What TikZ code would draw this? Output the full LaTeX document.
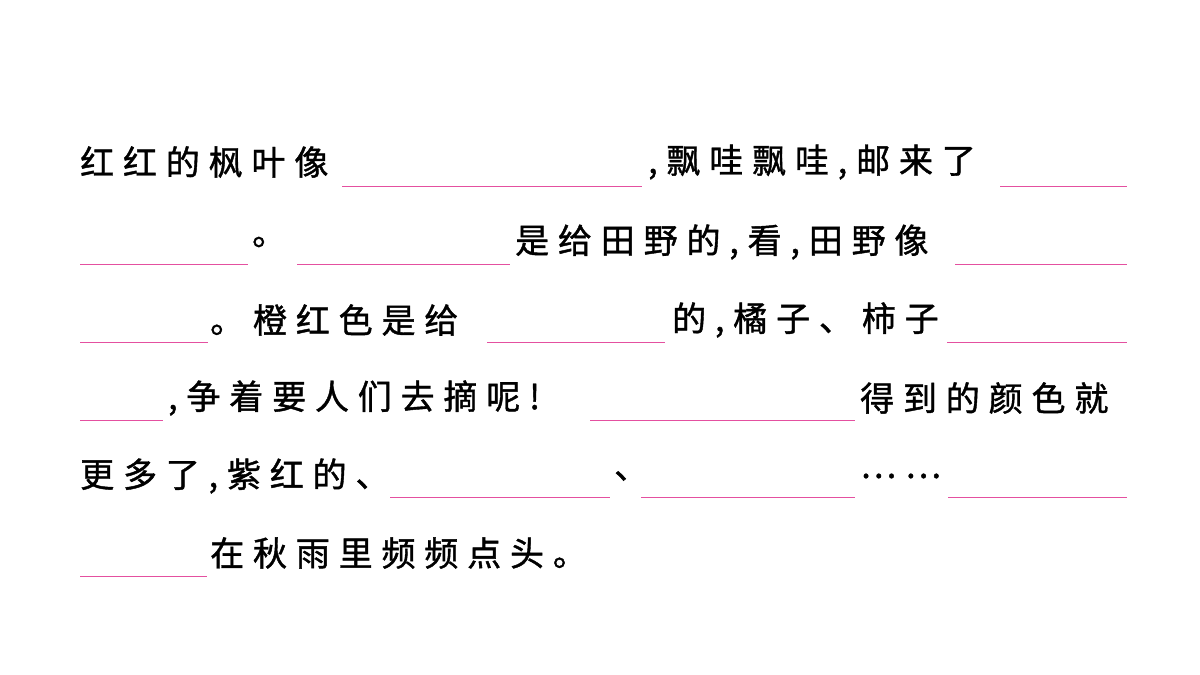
\documentclass[tikz,border=0pt]{standalone}
\usepackage{fontspec}
\newfontfamily\cjk[LetterSpace=26,FakeBold=1.2]{Noto Sans CJK SC}
\definecolor{pk}{RGB}{228,80,160}
\begin{document}
\begin{tikzpicture}[x=1pt,y=-1pt,
 t/.style={anchor=west,inner sep=0pt,font=\cjk\fontsize{34}{34}\selectfont},
 bl/.style={draw=pk,line width=0.8pt}]
\useasboundingbox (0,0) rectangle (1200,675);
% line 1
\node[t] (a1) at (80,162) {红红的枫叶像};
\coordinate (b1s) at (342,186); \coordinate (b1e) at (642,186); \draw[bl] (b1s)--(b1e);
\node[t] (a2) at (648,162) {,飘哇飘哇,邮来了};
\coordinate (b2s) at (1000,186); \coordinate (b2e) at (1127,186); \draw[bl] (b2s)--(b2e);
% line 2
\coordinate (b3s) at (80,264); \coordinate (b3e) at (248,264); \draw[bl] (b3s)--(b3e);
\node[t] (a3) at (252,242) {。};
\coordinate (b4s) at (297,264); \coordinate (b4e) at (510,264); \draw[bl] (b4s)--(b4e);
\node[t] (a4) at (515,242) {是给田野的,看,田野像};
\coordinate (b5s) at (955,264); \coordinate (b5e) at (1127,264); \draw[bl] (b5s)--(b5e);
% line 3
\coordinate (b6s) at (80,342); \coordinate (b6e) at (208,342); \draw[bl] (b6s)--(b6e);
\node[t] (a5) at (210,320) {。橙红色是给};
\coordinate (b7s) at (487,342); \coordinate (b7e) at (665,342); \draw[bl] (b7s)--(b7e);
\node[t] (a6) at (672,320) {的,橘子、柿子};
\coordinate (b8s) at (947,342); \coordinate (b8e) at (1127,342); \draw[bl] (b8s)--(b8e);
% line 4
\coordinate (b9s) at (80,420); \coordinate (b9e) at (163,420); \draw[bl] (b9s)--(b9e);
\node[t] (a7) at (168,398) {,争着要人们去摘呢!};
\coordinate (b10s) at (590,420); \coordinate (b10e) at (855,420); \draw[bl] (b10s)--(b10e);
\node[t] (a8) at (860,398) {得到的颜色就};
% line 5
\node[t] (a9) at (80,476) {更多了,紫红的、};
\coordinate (b11s) at (390,497); \coordinate (b11e) at (610,497); \draw[bl] (b11s)--(b11e);
\node[t] (a10) at (614,476) {、};
\coordinate (b12s) at (641,497); \coordinate (b12e) at (855,497); \draw[bl] (b12s)--(b12e);
\node[t] (a11) at (860,476) {……};
\coordinate (b13s) at (948,497); \coordinate (b13e) at (1127,497); \draw[bl] (b13s)--(b13e);
% line 6
\coordinate (b14s) at (80,576); \coordinate (b14e) at (207,576); \draw[bl] (b14s)--(b14e);
\node[t] (a12) at (210,553) {在秋雨里频频点头。};
\end{tikzpicture}
\end{document}
